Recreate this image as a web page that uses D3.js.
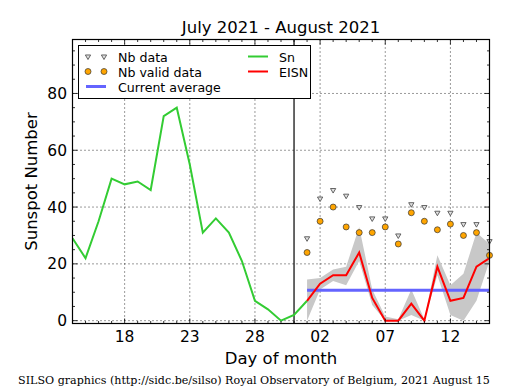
<!DOCTYPE html>
<html>
<head>
<meta charset="utf-8">
<script src="https://cdn.jsdelivr.net/npm/d3@7"></script>
<style>
  html, body { margin: 0; padding: 0; background: #fff; }
  svg { display: block; }
  text { font-family: "DejaVu Sans", sans-serif; fill: #000; }
</style>
</head>
<body>
<svg id="chart" width="515" height="390"></svg>
<script>
// ---- data ----
// day index: July = day of month, August = 31 + day of month
const snDays   = [14,15,16,17,18,19,20,21,22,23,24,25,26,27,28,29,30,31,32];
const snValues = [29,22,35,50,48,49,46,72,75,55,31,36,31,21,7,4,0,2,7];

const eisnDays   = [32,33,34,35,36,37,38,39,40,41,42,43,44,45,46];
const eisnValues = [7,13,16,16,24,8,0,0,6,0,19,7,8,19,22];
const bandUpper  = [14.5,15,18,19,33,11,1.5,0.5,11,0.5,23,12.5,16.5,31,27];
const bandLower  = [0,11,14,12.5,21,5.5,0,0,2,0,16,2,0,7,21];
const nbData      = [29,43,46,44,40,36,36,30,41,40,38,38,34,34,28];
const nbValidData = [24,35,40,33,31,31,33,27,38,35,32,34,30,31,23];
const currentAverage = 10.7;
const separatorDay = 31;

const xTickDays   = [18,23,28,33,38,43];
const xTickLabels = ["18","23","28","02","07","12"];
const yTicks = [0,20,40,60,80];

const titleText = "July 2021 - August 2021";
const xLabel = "Day of month";
const yLabel = "Sunspot Number";
const footer = "SILSO graphics (http://sidc.be/silso) Royal Observatory of Belgium, 2021 August 15";

// ---- layout ----
const L = 72.5, R = 489.5, T = 39.5, B = 323.5;
const x = d3.scaleLinear().domain([14, 46]).range([L, R]);
const y = d3.scaleLinear().domain([-1, 99]).range([B, T]);

const svg = d3.select("#chart");

svg.append("defs").append("clipPath").attr("id", "clip")
  .append("rect").attr("x", L).attr("y", T).attr("width", R - L).attr("height", B - T);

// grid
const grid = svg.append("g");
xTickDays.forEach(d => {
  grid.append("line").attr("x1", x(d)).attr("x2", x(d)).attr("y1", T).attr("y2", B)
    .attr("stroke", "#000").attr("stroke-width", 0.8).attr("stroke-dasharray", "1,3");
});
yTicks.forEach(v => {
  grid.append("line").attr("x1", L).attr("x2", R).attr("y1", y(v)).attr("y2", y(v))
    .attr("stroke", "#000").attr("stroke-width", 0.8).attr("stroke-dasharray", "1,3");
});

const plot = svg.append("g").attr("clip-path", "url(#clip)");

// band
const bandData = eisnDays.map((d, i) => ({d, lo: bandLower[i], hi: bandUpper[i]}));
plot.append("path").datum(bandData)
  .attr("d", d3.area().x(p => x(p.d)).y0(p => y(p.lo)).y1(p => y(p.hi)))
  .attr("fill", "#c8c8c8").attr("stroke", "none");

// vertical separator
plot.append("line").attr("x1", x(separatorDay)).attr("x2", x(separatorDay))
  .attr("y1", T).attr("y2", B).attr("stroke", "#000").attr("stroke-width", 1.2);

// current average
plot.append("line").attr("x1", x(eisnDays[0])).attr("x2", x(eisnDays[eisnDays.length - 1]))
  .attr("y1", y(currentAverage)).attr("y2", y(currentAverage))
  .attr("stroke", "#6464ff").attr("stroke-width", 3);

// Sn line
const line = d3.line().x(p => x(p[0])).y(p => y(p[1]));
plot.append("path").datum(snDays.map((d, i) => [d, snValues[i]]))
  .attr("d", line).attr("fill", "none").attr("stroke", "#33cc33").attr("stroke-width", 2);

// EISN line
plot.append("path").datum(eisnDays.map((d, i) => [d, eisnValues[i]]))
  .attr("d", line).attr("fill", "none").attr("stroke", "#ff0000").attr("stroke-width", 2);

// markers
const tri = d3.symbol().type(d3.symbolTriangle).size(12);
function drawTri(g, cx, cy) {
  g.append("path").attr("d", tri()).attr("transform", `translate(${cx},${cy}) rotate(180)`)
    .attr("fill", "#e0e0e0").attr("stroke", "#555").attr("stroke-width", 0.9);
}
function drawCirc(g, cx, cy) {
  g.append("circle").attr("cx", cx).attr("cy", cy).attr("r", 3)
    .attr("fill", "#ffa500").attr("stroke", "#333").attr("stroke-width", 0.7);
}
eisnDays.forEach((d, i) => drawTri(svg, x(d), y(nbData[i])));
eisnDays.forEach((d, i) => drawCirc(svg, x(d), y(nbValidData[i])));

// ticks (inward, all four sides)
const tk = svg.append("g").attr("stroke", "#000").attr("stroke-width", 0.8);
for (let d = 14; d <= 46; d++) {
  const major = xTickDays.includes(d);
  const len = major ? 5 : 2.5;
  tk.append("line").attr("x1", x(d)).attr("x2", x(d)).attr("y1", B).attr("y2", B - len);
  tk.append("line").attr("x1", x(d)).attr("x2", x(d)).attr("y1", T).attr("y2", T + len);
}
for (let v = 0; v <= 95; v += 5) {
  const major = v % 20 === 0;
  const len = major ? 5 : 2.5;
  tk.append("line").attr("x1", L).attr("x2", L + len).attr("y1", y(v)).attr("y2", y(v));
  tk.append("line").attr("x1", R).attr("x2", R - len).attr("y1", y(v)).attr("y2", y(v));
}

// frame
svg.append("rect").attr("x", L).attr("y", T).attr("width", R - L).attr("height", B - T)
  .attr("fill", "none").attr("stroke", "#000").attr("stroke-width", 1.2);

// tick labels
xTickDays.forEach((d, i) => {
  svg.append("text").attr("x", x(d)).attr("y", 342).attr("text-anchor", "middle")
    .attr("font-size", 15.5).text(xTickLabels[i]);
});
yTicks.forEach(v => {
  svg.append("text").attr("x", 67).attr("y", y(v) + 5.5).attr("text-anchor", "end")
    .attr("font-size", 15.5).text(v);
});

// titles
svg.append("text").attr("x", (L + R) / 2).attr("y", 33).attr("text-anchor", "middle")
  .attr("font-size", 16.5).text(titleText);
svg.append("text").attr("x", (L + R) / 2).attr("y", 364).attr("text-anchor", "middle")
  .attr("font-size", 16.5).text(xLabel);
svg.append("text").attr("transform", `translate(37,${(T + B) / 2}) rotate(-90)`)
  .attr("text-anchor", "middle").attr("font-size", 16.5).text(yLabel);
svg.append("text").attr("x", 254).attr("y", 384).attr("text-anchor", "middle")
  .style("font-family", "'DejaVu Serif', serif")
  .attr("font-size", 11.1).text(footer);

// legend
const lg = svg.append("g");
lg.append("rect").attr("x", 78.5).attr("y", 45.5).attr("width", 232).attr("height", 53)
  .attr("fill", "#fff").attr("stroke", "#000").attr("stroke-width", 1);
const fs = 12.6;
drawTri(lg, 88, 56.5); drawTri(lg, 104, 56.5);
lg.append("text").attr("x", 118).attr("y", 61.5).attr("font-size", fs).text("Nb data");
drawCirc(lg, 88, 71.5); drawCirc(lg, 104, 71.5);
lg.append("text").attr("x", 118).attr("y", 76.5).attr("font-size", fs).text("Nb valid data");
lg.append("line").attr("x1", 86).attr("x2", 106).attr("y1", 86.5).attr("y2", 86.5)
  .attr("stroke", "#6464ff").attr("stroke-width", 3);
lg.append("text").attr("x", 118).attr("y", 91.5).attr("font-size", fs).text("Current average");
lg.append("line").attr("x1", 248).attr("x2", 268).attr("y1", 56.5).attr("y2", 56.5)
  .attr("stroke", "#33cc33").attr("stroke-width", 2);
lg.append("text").attr("x", 279).attr("y", 61.5).attr("font-size", fs).text("Sn");
lg.append("line").attr("x1", 248).attr("x2", 268).attr("y1", 71.5).attr("y2", 71.5)
  .attr("stroke", "#ff0000").attr("stroke-width", 2);
lg.append("text").attr("x", 279).attr("y", 76.5).attr("font-size", fs).text("EISN");
</script>
</body>
</html>
